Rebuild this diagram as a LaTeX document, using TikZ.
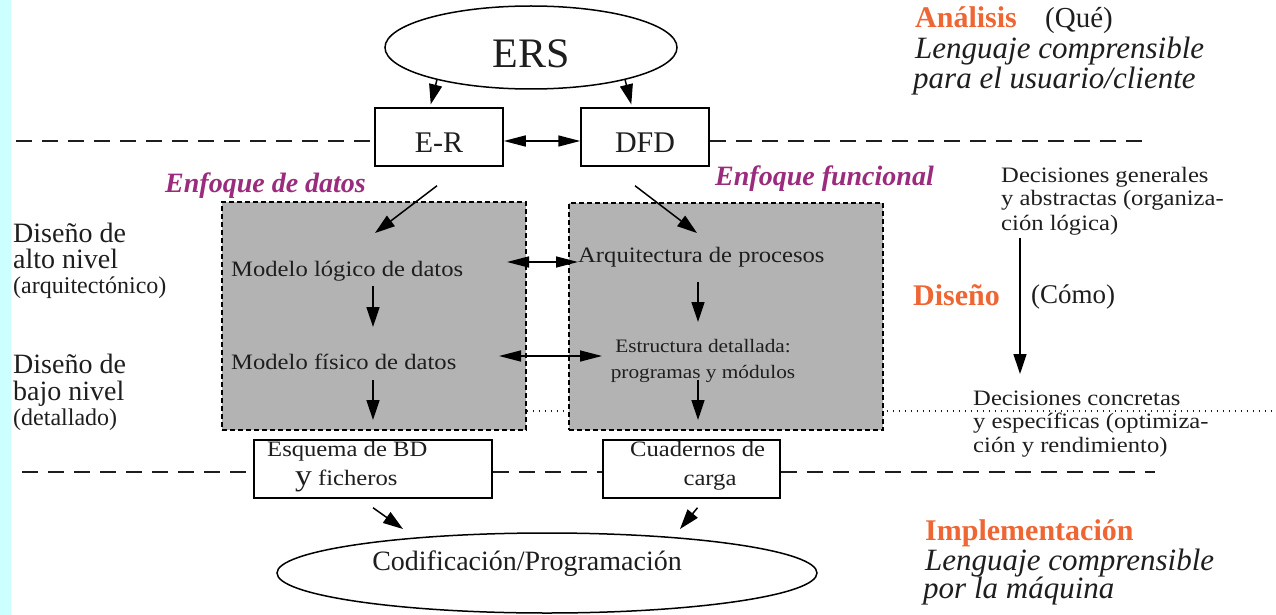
\documentclass[tikz,border=0pt]{standalone}
\usepackage{fontspec}
\setmainfont{Liberation Serif}
\newfontfamily\widefont{Liberation Serif}[FakeStretch=1.12]
\usetikzlibrary{shapes.geometric,arrows.meta}
\definecolor{ink}{HTML}{1E1E1E}
\definecolor{stage}{HTML}{EE6633}
\definecolor{focus}{HTML}{9A2B7D}
\definecolor{panel}{HTML}{B3B3B3}
\definecolor{margin}{HTML}{CCFFFF}
\newcommand{\setsz}[1]{\fontsize{#1}{#1}\selectfont}

\begin{document}
\begin{tikzpicture}[x=1pt,y=-1pt,
  txt/.style={inner sep=0pt, text=ink, anchor=base west},
  txtc/.style={txt, anchor=base},
  stagehead/.style={txt, text=stage, font=\setsz{30}\bfseries},
  focushead/.style={txt, text=focus, font=\setsz{28}\bfseries\itshape},
  note/.style={txt, font=\widefont\setsz{22}},
  box/.style={draw, line width=1.5pt, rectangle, inner sep=0pt, fill=white},
  oval/.style={draw, line width=1.5pt, ellipse, inner sep=0pt, fill=white},
  grayblk/.style={draw, fill=panel, line width=1.4pt, dash pattern=on 5pt off 3pt, inner sep=0pt},
  rule/.style={line width=1.5pt, dash pattern=on 16pt off 10pt, draw=ink},
  dotrule/.style={line width=1.2pt, dash pattern=on 1.2pt off 4.8pt, draw=ink},
  arr/.style={-{Triangle[length=20pt,width=13pt]}, line width=1.5pt},
  darr/.style={{Triangle[length=22pt,width=11pt]}-{Triangle[length=22pt,width=11pt]}, line width=1.5pt}]
\useasboundingbox (0,0) rectangle (1276,615);
\fill[margin] (0,0) rectangle (11,615);

% ---- analysis level ----
\node[oval, minimum width=292pt, minimum height=83pt, text height=41pt, text depth=0pt,
      font=\setsz{42}, text=ink] (ers) at (531,47.5) {ERS};
\node[box, minimum width=128pt, minimum height=58pt, text height=30pt, text depth=0pt,
      font=\setsz{30}, text=ink] (er) at (439,137) {E-R};
\node[box, minimum width=128pt, minimum height=58pt, text height=30pt, text depth=0pt,
      font=\setsz{30}, text=ink] (dfd) at (645,137) {DFD};

\coordinate (hl1) at (16,141);
\coordinate (hr1) at (1145,141);
\draw[rule] (hl1) -- (hl1 -| er.west);
\draw[rule] (hl1 -| dfd.east) -- (hr1);

\draw[arr, shorten >=3pt] (ers.199) -- ([xshift=-9pt]er.north);
\draw[arr, shorten >=3pt] (ers.-19) -- ([xshift=-13pt]dfd.north);
\draw[darr] (hl1 -| er.east) -- (hl1 -| dfd.west);

\node[stagehead] (ana) at (915,28) {Análisis};
\node[txt, font=\setsz{29}] (que) at (1045,28) {(Qué)};
\node[txt, font=\setsz{31}\itshape] (lc1) at (915,59) {Lenguaje comprensible};
\node[txt, font=\setsz{31}\itshape] (lc2) at (913,89) {para el usuario/cliente};

% ---- design level ----
\node[focushead] (enfd) at (165,192) {Enfoque de datos};
\node[focushead] (enff) at (715,185) {Enfoque funcional};

\node[grayblk, minimum width=304pt, minimum height=228pt] (gl) at (374,316) {};
\coordinate (dotend) at (1276,411);
\draw[dotrule] (dotend -| gl.east) -- (dotend);
\node[grayblk, minimum width=314pt, minimum height=227pt] (gr) at (726,316.5) {};

\node[note] (mlog) at (231,276) {Modelo lógico de datos};
\node[note] (mfis) at (231,369) {Modelo físico de datos};
\node[note] (arq) at (578,262) {Arquitectura de procesos};
\node[txtc, font=\widefont\setsz{19}] (est1) at (703,352) {Estructura detallada:};
\node[txtc, font=\widefont\setsz{19}] (est2) at (703,378) {programas y módulos};

\coordinate (p1) at (375,233);
\coordinate (p2) at (697,233);
\draw[arr] ([xshift=-2pt,yshift=-19pt]er.south) -- (p1);
\draw[arr] ([xshift=-10pt,yshift=-19pt]dfd.south) -- (p2);

\coordinate (la) at (373,286);  \coordinate (lb) at (373,327);
\coordinate (fa) at (373,380);  \coordinate (fb) at (373,420);
\coordinate (aa) at (698,282);  \coordinate (ab) at (698,322);
\coordinate (ea) at (698,380);  \coordinate (eb) at (698,420);
\draw[arr] (la) -- (lb);
\draw[arr] (fa) -- (fb);
\draw[arr] (aa) -- (ab);
\draw[arr] (ea) -- (eb);

\coordinate (ml) at (507,262);
\draw[darr] (ml) -- (arq.base west);
\coordinate (fl) at (499,356);
\coordinate (fr) at (602,356);
\draw[darr] (fl) -- (fr);

% left level labels
\node[txt, font=\setsz{28}] (d1a) at (13,242) {Diseño de};
\node[txt, font=\setsz{28}] (d1b) at (13,268) {alto nivel};
\node[txt, font=\setsz{24}] (d1c) at (13,293) {(arquitectónico)};
\node[txt, font=\setsz{28}] (d2a) at (13,373) {Diseño de};
\node[txt, font=\setsz{28}] (d2b) at (13,400) {bajo nivel};
\node[txt, font=\setsz{24}] (d2c) at (13,425) {(detallado)};

% right column
\node[stagehead] (dis) at (913,305) {Diseño};
\node[txt, font=\setsz{27}] (como) at (1031,303) {(Cómo)};
\node[note] (dg1) at (1001,182) {Decisiones generales};
\node[note] (dg2) at (1001,205) {y abstractas (organiza-};
\node[note] (dg3) at (1001,230) {ción lógica)};
\node[note] (dc1) at (973,405) {Decisiones concretas};
\node[note] (dc2) at (973,428) {y específicas (optimiza-};
\node[note] (dc3) at (973,452) {ción y rendimiento)};
\coordinate (ca) at (1020,238);
\coordinate (cb) at (1020,374);
\draw[arr] (ca) -- (cb);

% ---- implementation level ----
\node[box, minimum width=238pt, minimum height=58pt] (esq) at (373,469) {};
\node[box, minimum width=177pt, minimum height=58pt] (cua) at (691.5,469) {};
\coordinate (hl2) at (22,472);
\coordinate (hr2) at (1155,472);
\draw[rule] (hl2) -- (hl2 -| esq.west);
\draw[rule] (hl2 -| esq.east) -- (hl2 -| cua.west);
\draw[rule] (hl2 -| cua.east) -- (hr2);

\node[note] (esq1) at (267,456) {Esquema de BD};
\node[note] (esq2) at (295,485) {{\setsz{30}y} ficheros};
\node[note] (cua1) at (630,456) {Cuadernos de};
\node[txtc, font=\widefont\setsz{22}] (cua2) at (710,485) {carga};

\node[oval, minimum width=540pt, minimum height=80pt] (cod) at (547,573) {};
\node[txtc, font=\setsz{28}] (codt) at (527,570) {Codificación/Programación};

\coordinate (q1) at (403,529);
\coordinate (q2) at (680,529);
\draw[arr] ([yshift=-9pt]esq.south) -- (q1);
\draw[arr] ([xshift=6pt,yshift=-9pt]cua.south) -- (q2);

\node[stagehead] (imp) at (925,540) {Implementación};
\node[txt, font=\setsz{31}\itshape] (lm1) at (925,570) {Lenguaje comprensible};
\node[txt, font=\setsz{31}\itshape] (lm2) at (923,598) {por la máquina};
\end{tikzpicture}
\end{document}
